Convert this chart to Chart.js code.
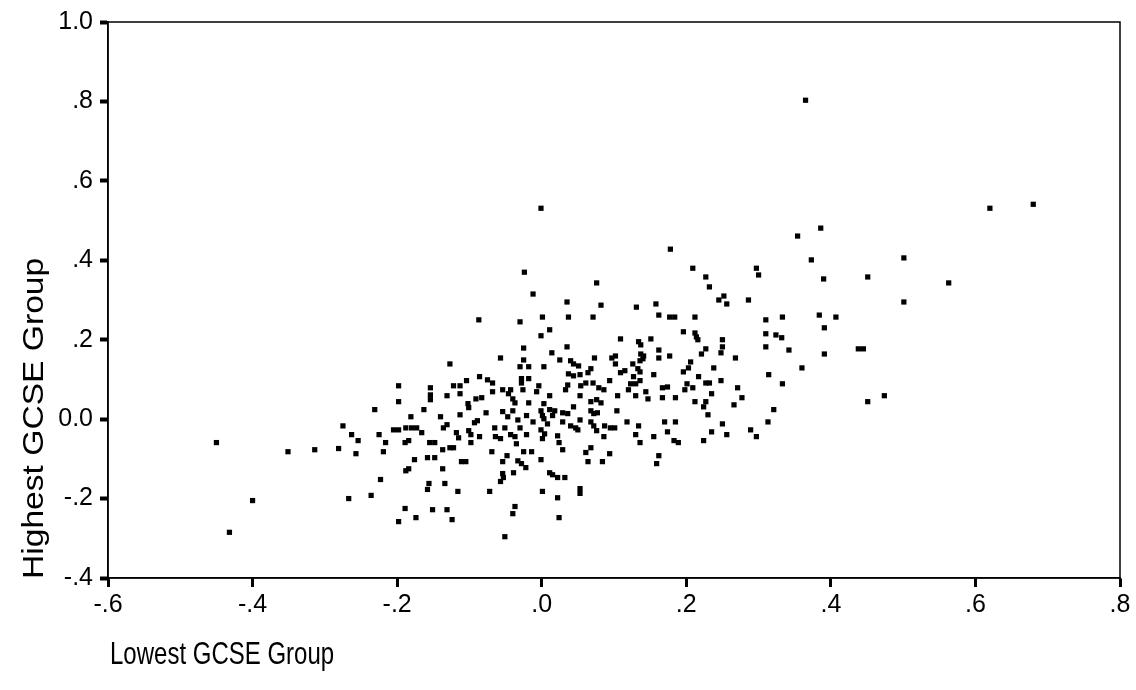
<!DOCTYPE html>
<html>
<head>
<meta charset="utf-8">
<title>Highest vs Lowest GCSE Group</title>
<script src="https://cdn.jsdelivr.net/npm/chart.js@4.4.1/dist/chart.umd.min.js"></script>
<style>
  html, body { margin: 0; padding: 0; background: #fff; }
  #wrap { width: 1136px; height: 690px; }
</style>
</head>
<body>
<div id="wrap"><canvas id="scatter" width="1136" height="690"></canvas></div>
<script>
// Lowest GCSE group (x) and highest GCSE group (y), one entry per school
const lowestGroup = [
  -0.450, -0.400, -0.432, -0.351, -0.314, -0.281, -0.275, -0.263, -0.254, -0.257,
  -0.267, -0.087, -0.057, -0.127, -0.198, -0.198, -0.154, -0.154, -0.154, -0.131,
  -0.122, -0.113, -0.113, -0.104, -0.086, -0.075, -0.068, -0.068, -0.054, -0.043,
  -0.046, -0.040, -0.091, -0.083, -0.102, -0.101, -0.231, -0.163, -0.181, -0.140,
  -0.113, -0.077, -0.054, -0.047, -0.040, -0.205, -0.198, -0.188, -0.180, -0.173,
  -0.166, -0.136, -0.131, -0.118, -0.115, -0.101, -0.098, -0.093, -0.089, -0.086,
  -0.065, -0.051, -0.064, -0.057, -0.043, -0.037, -0.035, -0.225, -0.216, -0.219,
  -0.189, -0.184, -0.155, -0.148, -0.137, -0.127, -0.122, -0.098, -0.069, -0.176,
  -0.158, -0.148, -0.111, -0.105, -0.048, -0.054, -0.188, -0.184, -0.137, -0.039,
  -0.223, -0.054, -0.053, -0.057, -0.156, -0.158, -0.134, -0.116, -0.072, -0.236,
  -0.189, -0.151, -0.131, -0.174, -0.124, -0.198, -0.037, -0.040, -0.051, -0.001,
  0.178, -0.024, 0.076, -0.012, 0.035, 0.082, 0.131, 0.158, 0.162, 0.177,
  0.001, 0.037, 0.071, -0.030, 0.011, -0.001, 0.109, 0.134, 0.137, 0.151,
  -0.025, 0.035, 0.162, 0.014, 0.177, -0.025, 0.025, 0.073, 0.097, 0.102,
  0.102, 0.137, 0.141, 0.140, 0.136, 0.162, 0.040, 0.044, 0.051, 0.126,
  0.133, -0.030, -0.018, 0.003, 0.068, 0.064, 0.109, 0.115, 0.136, 0.155,
  0.037, 0.044, 0.053, -0.028, -0.028, -0.018, 0.127, 0.094, 0.061, 0.071,
  0.054, 0.036, 0.033, 0.123, 0.130, 0.120, 0.136, 0.079, 0.086, -0.004,
  -0.007, -0.026, 0.167, 0.174, 0.011, 0.053, 0.105, 0.130, 0.144, 0.147,
  0.167, -0.037, -0.018, 0.003, 0.068, 0.076, 0.082, 0.044, 0.011, 0.018,
  0.104, -0.001, 0.001, 0.003, 0.015, 0.029, 0.036, 0.068, 0.072, 0.077,
  -0.021, -0.033, -0.012, 0.008, 0.029, 0.040, 0.047, 0.053, 0.050, 0.068,
  0.072, 0.076, 0.087, 0.095, 0.101, 0.118, 0.134, 0.170, 0.174, -0.030,
  -0.001, 0.004, -0.021, 0.001, 0.022, 0.024, 0.029, 0.086, 0.130, 0.155,
  0.136, 0.068, 0.061, -0.025, -0.014, 0.094, 0.162, 0.159, -0.033, -0.028,
  -0.022, -0.001, 0.064, 0.084, 0.011, 0.015, 0.022, 0.032, 0.053, 0.053,
  0.001, 0.022, 0.024, 0.354, 0.373, 0.209, 0.297, 0.300, 0.227, 0.390,
  0.232, 0.252, 0.245, 0.256, 0.286, 0.384, 0.184, 0.212, 0.310, 0.333,
  0.391, 0.196, 0.212, 0.214, 0.216, 0.250, 0.310, 0.324, 0.332, 0.310,
  0.227, 0.221, 0.250, 0.248, 0.342, 0.268, 0.391, 0.206, 0.203, 0.196,
  0.238, 0.360, 0.217, 0.314, 0.227, 0.232, 0.248, 0.201, 0.198, 0.209,
  0.333, 0.271, 0.235, 0.185, 0.277, 0.212, 0.227, 0.224, 0.266, 0.321,
  0.230, 0.185, 0.250, 0.313, 0.235, 0.256, 0.289, 0.297, 0.183, 0.189,
  0.224, 0.365, 0.620, 0.680, 0.386, 0.501, 0.451, 0.563, 0.501, 0.407,
  0.438, 0.445, 0.474, 0.451
];

const highestGroup = [
  -0.059, -0.205, -0.285, -0.082, -0.077, -0.074, -0.017, -0.039, -0.054, -0.087,
  -0.200, 0.250, 0.154, 0.139, 0.084, 0.044, 0.079, 0.061, 0.049, 0.059,
  0.084, 0.084, 0.064, 0.097, 0.107, 0.099, 0.091, 0.069, 0.074, 0.074,
  0.064, 0.051, 0.051, 0.054, 0.039, 0.029, 0.024, 0.024, 0.006, 0.006,
  0.011, 0.016, 0.019, 0.006, 0.021, -0.027, -0.027, -0.022, -0.022, -0.022,
  -0.034, -0.022, -0.014, -0.034, -0.047, -0.029, -0.039, -0.009, -0.004, -0.044,
  -0.022, -0.022, -0.044, -0.049, -0.039, -0.044, -0.062, -0.039, -0.059, -0.082,
  -0.059, -0.054, -0.059, -0.059, -0.077, -0.072, -0.072, -0.059, -0.082, -0.102,
  -0.097, -0.097, -0.107, -0.107, -0.092, -0.107, -0.130, -0.125, -0.125, -0.135,
  -0.152, -0.137, -0.147, -0.157, -0.162, -0.177, -0.162, -0.182, -0.182, -0.192,
  -0.225, -0.228, -0.228, -0.248, -0.253, -0.258, -0.220, -0.238, -0.296, 0.531,
  0.428, 0.370, 0.343, 0.315, 0.295, 0.287, 0.282, 0.290, 0.262, 0.257,
  0.257, 0.257, 0.257, 0.245, 0.225, 0.210, 0.202, 0.195, 0.187, 0.202,
  0.179, 0.182, 0.174, 0.167, 0.159, 0.149, 0.149, 0.154, 0.154, 0.159,
  0.139, 0.164, 0.159, 0.152, 0.147, 0.154, 0.147, 0.139, 0.134, 0.139,
  0.127, 0.132, 0.132, 0.132, 0.127, 0.117, 0.117, 0.122, 0.119, 0.112,
  0.114, 0.109, 0.112, 0.102, 0.091, 0.102, 0.107, 0.097, 0.091, 0.091,
  0.084, 0.086, 0.074, 0.089, 0.089, 0.074, 0.097, 0.079, 0.074, 0.084,
  0.069, 0.074, 0.079, 0.081, 0.059, 0.059, 0.059, 0.059, 0.069, 0.051,
  0.054, 0.041, 0.041, 0.039, 0.044, 0.049, 0.041, 0.031, 0.024, 0.021,
  0.021, 0.021, 0.009, 0.001, 0.009, 0.016, 0.014, 0.021, 0.014, 0.016,
  0.009, -0.002, -0.007, -0.012, -0.007, -0.017, -0.022, -0.002, -0.027, -0.007,
  -0.017, -0.029, -0.017, -0.022, -0.022, -0.007, -0.017, -0.007, -0.032, -0.022,
  -0.027, -0.037, -0.039, -0.049, -0.042, -0.059, -0.077, -0.044, -0.039, -0.044,
  -0.059, -0.072, -0.084, -0.082, -0.082, -0.087, -0.092, -0.112, -0.105, -0.112,
  -0.122, -0.102, -0.107, -0.107, -0.135, -0.140, -0.147, -0.147, -0.175, -0.187,
  -0.182, -0.198, -0.248, 0.461, 0.401, 0.380, 0.380, 0.363, 0.358, 0.353,
  0.333, 0.310, 0.300, 0.290, 0.300, 0.262, 0.257, 0.257, 0.250, 0.257,
  0.230, 0.220, 0.217, 0.207, 0.200, 0.200, 0.215, 0.212, 0.205, 0.182,
  0.177, 0.164, 0.182, 0.167, 0.174, 0.154, 0.164, 0.144, 0.129, 0.119,
  0.129, 0.129, 0.107, 0.112, 0.091, 0.091, 0.097, 0.089, 0.074, 0.079,
  0.089, 0.079, 0.064, 0.054, 0.054, 0.044, 0.044, 0.031, 0.036, 0.024,
  0.011, -0.007, -0.012, -0.007, -0.032, -0.039, -0.027, -0.044, -0.054, -0.059,
  -0.054, 0.803, 0.531, 0.541, 0.481, 0.406, 0.358, 0.343, 0.295, 0.257,
  0.177, 0.177, 0.059, 0.044
];

// tick labels, SPSS style (no leading zero)
const xTickLabels = ['-.6', '-.4', '-.2', '.0', '.2', '.4', '.6', '.8'];
const yTickLabels = ['-.4', '-.2', '0.0', '.2', '.4', '.6', '.8', '1.0'];

const xTitle = 'Lowest GCSE Group';
const yTitle = 'Highest GCSE Group';

const FONT = '"Liberation Sans", Arial, Helvetica, sans-serif';

const points = lowestGroup.map((x, i) => ({ x: x, y: highestGroup[i] }));

// box around the plot area + axis titles
const frameAndTitles = {
  id: 'frameAndTitles',
  afterDraw(chart) {
    const { ctx, chartArea: a } = chart;
    ctx.save();
    ctx.strokeStyle = '#000';
    ctx.lineWidth = 1.5;
    ctx.strokeRect(a.left, a.top, a.right - a.left, a.bottom - a.top);

    ctx.fillStyle = '#000';
    ctx.font = '24px ' + FONT;
    ctx.textBaseline = 'alphabetic';
    ctx.textAlign = 'left';

    // x title, a bit taller than wide
    ctx.save();
    ctx.translate(110, 664);
    ctx.scale(1, 1.3);
    ctx.fillText(xTitle, 0, 0);
    ctx.restore();

    // y title, rotated, stretched along its length
    ctx.save();
    ctx.translate(43, 579);
    ctx.rotate(-Math.PI / 2);
    ctx.scale(1.4, 1.2);
    ctx.fillText(yTitle, 0, 0);
    ctx.restore();

    ctx.restore();
  }
};

new Chart(document.getElementById('scatter'), {
  type: 'scatter',
  data: {
    datasets: [{
      data: points,
      pointStyle: 'rect',
      pointRadius: 3.7,
      pointHoverRadius: 3.7,
      backgroundColor: '#000',
      borderWidth: 0
    }]
  },
  options: {
    responsive: false,
    animation: false,
    devicePixelRatio: 1,
    layout: { padding: { top: 20, right: 16, left: 0, bottom: 0 } },
    plugins: {
      legend: { display: false },
      tooltip: { enabled: false }
    },
    scales: {
      x: {
        type: 'linear',
        min: -0.6,
        max: 0.8,
        afterFit(scale) { scale.height = 112; },
        border: { display: true, color: '#000', width: 1.5 },
        grid: {
          drawOnChartArea: false,
          drawTicks: true,
          tickLength: 9,
          tickWidth: 3,
          tickColor: '#000'
        },
        ticks: {
          stepSize: 0.2,
          padding: 3,
          color: '#000',
          font: { family: FONT, size: 25 },
          maxRotation: 0,
          callback: (v, i) => xTickLabels[i]
        }
      },
      y: {
        type: 'linear',
        min: -0.4,
        max: 1.0,
        afterFit(scale) { scale.width = 108; },
        border: { display: true, color: '#000', width: 1.5 },
        grid: {
          drawOnChartArea: false,
          drawTicks: true,
          tickLength: 8,
          tickWidth: 4,
          tickColor: '#000'
        },
        ticks: {
          stepSize: 0.2,
          padding: 7,
          color: '#000',
          font: { family: FONT, size: 25 },
          callback: (v, i) => yTickLabels[i]
        }
      }
    }
  },
  plugins: [frameAndTitles]
});
</script>
</body>
</html>
